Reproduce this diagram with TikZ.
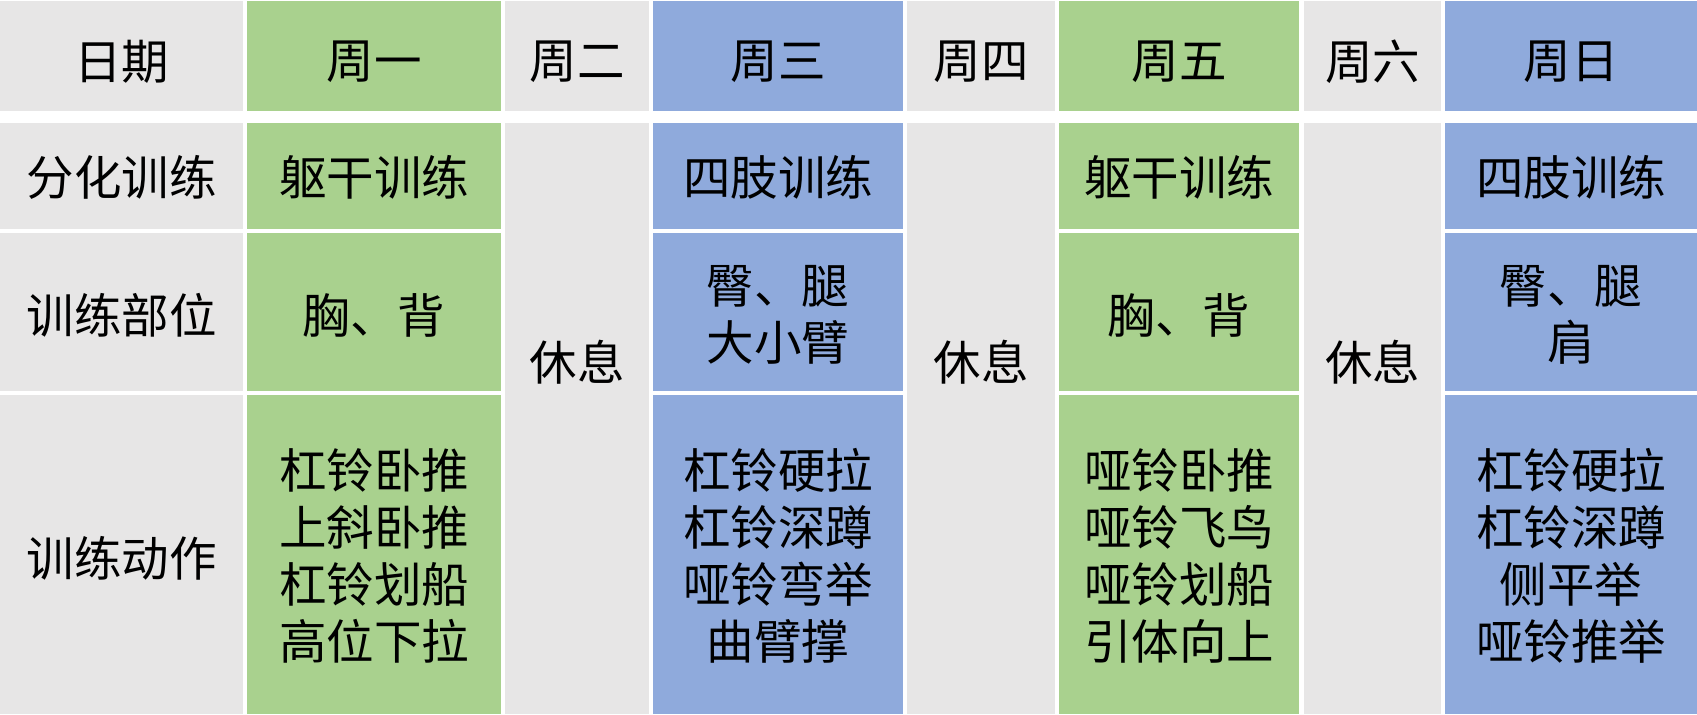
\documentclass[tikz,border=0pt]{standalone}
\usepackage{fontspec}
\setmainfont{Noto Sans CJK SC}
\definecolor{restgray}{HTML}{E7E6E6}
\definecolor{trunkgreen}{HTML}{A9D18E}
\definecolor{limbblue}{HTML}{8FAADC}
\newcommand{\cellfont}{\fontsize{23.75pt}{28.5pt}\selectfont}
\begin{document}
\begin{tikzpicture}[x=0.5pt, y=-0.5pt, every node/.style={font=\cellfont, align=center, inner sep=0pt}]
        \useasboundingbox (0, 0) rectangle (1697, 714);
        \begin{scope}
            % header row
            \fill [color=restgray] (0, 1) rectangle (243, 111);
            \fill [color=trunkgreen] (247, 1) rectangle (501, 111);
            \fill [color=restgray] (505, 1) rectangle (649, 111);
            \fill [color=limbblue] (653, 1) rectangle (903, 111);
            \fill [color=restgray] (907, 1) rectangle (1055, 111);
            \fill [color=trunkgreen] (1059, 1) rectangle (1299, 111);
            \fill [color=restgray] (1304, 1) rectangle (1441, 111);
            \fill [color=limbblue] (1445, 1) rectangle (1697, 111);
            % first column
            \fill [color=restgray] (0, 123) rectangle (243, 229);
            \fill [color=restgray] (0, 233) rectangle (243, 391);
            \fill [color=restgray] (0, 395) rectangle (243, 714);
            % monday
            \fill [color=trunkgreen] (247, 123) rectangle (501, 229);
            \fill [color=trunkgreen] (247, 233) rectangle (501, 391);
            \fill [color=trunkgreen] (247, 395) rectangle (501, 714);
            % wednesday
            \fill [color=limbblue] (653, 123) rectangle (903, 229);
            \fill [color=limbblue] (653, 233) rectangle (903, 391);
            \fill [color=limbblue] (653, 395) rectangle (903, 714);
            % friday
            \fill [color=trunkgreen] (1059, 123) rectangle (1299, 229);
            \fill [color=trunkgreen] (1059, 233) rectangle (1299, 391);
            \fill [color=trunkgreen] (1059, 395) rectangle (1299, 714);
            % sunday
            \fill [color=limbblue] (1445, 123) rectangle (1697, 229);
            \fill [color=limbblue] (1445, 233) rectangle (1697, 391);
            \fill [color=limbblue] (1445, 395) rectangle (1697, 714);
            % rest days
            \fill [color=restgray] (505, 123) rectangle (649, 714);
            \fill [color=restgray] (907, 123) rectangle (1055, 714);
            \fill [color=restgray] (1304, 123) rectangle (1441, 714);
            % header texts
            \node (date) at (121.5, 62) {日期};
            \node (mon) at (374, 62) {周一};
            \node (tue) at (577, 62) {周二};
            \node (wed) at (778, 62) {周三};
            \node (thu) at (981, 62) {周四};
            \node (fri) at (1179, 62) {周五};
            \node (sat) at (1372.5, 62) {周六};
            \node (sun) at (1571, 62) {周日};
            % row labels
            \node (split) at (121.5, 177) {分化训练};
            \node (part) at (121.5, 315) {训练部位};
            \node (move) at (121.5, 558) {训练动作};
            % monday
            \node (monsplit) at (374, 177) {躯干训练};
            \node (monpart) at (374, 315) {胸、背};
            \node (monmove) at (374, 556) {杠铃卧推\\上斜卧推\\杠铃划船\\高位下拉};
            % wednesday
            \node (wedsplit) at (778, 177) {四肢训练};
            \node (wedpart) at (778, 315) {臀、腿\\大小臂};
            \node (wedmove) at (778, 556) {杠铃硬拉\\杠铃深蹲\\哑铃弯举\\曲臂撑};
            % friday
            \node (frisplit) at (1179, 177) {躯干训练};
            \node (fripart) at (1179, 315) {胸、背};
            \node (frimove) at (1179, 556) {哑铃卧推\\哑铃飞鸟\\哑铃划船\\引体向上};
            % sunday
            \node (sunsplit) at (1571, 177) {四肢训练};
            \node (sunpart) at (1571, 315) {臀、腿\\肩};
            \node (sunmove) at (1571, 556) {杠铃硬拉\\杠铃深蹲\\侧平举\\哑铃推举};
            % rest days
            \node (tuerest) at (577, 362) {休息};
            \node (thurest) at (981, 362) {休息};
            \node (satrest) at (1372.5, 362) {休息};
        \end{scope}
    \end{tikzpicture}
\end{document}
